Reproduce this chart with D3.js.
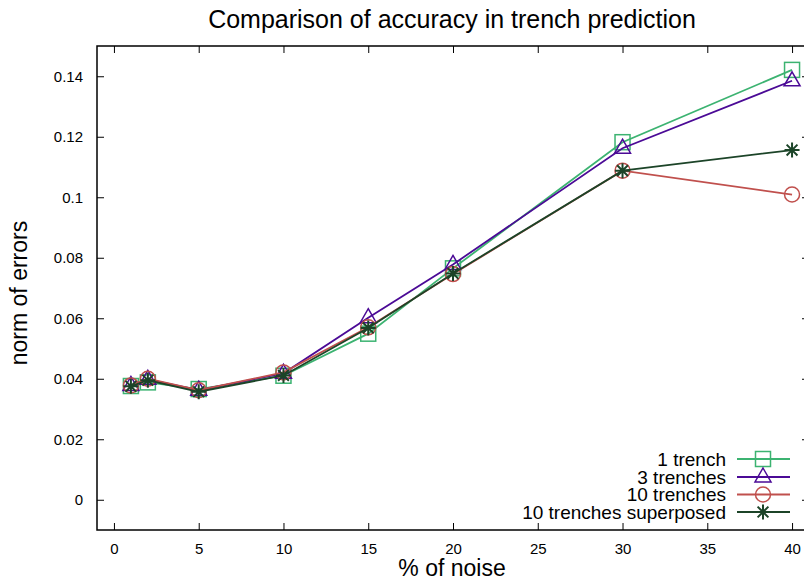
<!DOCTYPE html>
<html><head><meta charset="utf-8">
<script src="https://cdn.jsdelivr.net/npm/d3@7"></script>
<style>
body{margin:0;background:#fff;}
text{font-family:"Liberation Sans",Arial,sans-serif;fill:#000;}
</style></head>
<body><svg id="c" width="804" height="581"></svg>
<script>
const noise = [1, 2, 5, 10, 15, 20, 30, 40];
const oneTrench = [0.0376, 0.0388, 0.0366, 0.0410, 0.0549, 0.0765, 0.1182, 0.1421];
const threeTrenches = [0.0378, 0.0398, 0.0362, 0.0418, 0.0602, 0.0778, 0.1162, 0.1385];
const tenTrenches = [0.0378, 0.0400, 0.0362, 0.0421, 0.0570, 0.0746, 0.1088, 0.1009];
const tenSuperposed = [0.0375, 0.0395, 0.0357, 0.0411, 0.0568, 0.0748, 0.1088, 0.1156];
const seriesNames = ["1 trench", "3 trenches", "10 trenches", "10 trenches superposed"];
const xTicks = [0, 5, 10, 15, 20, 25, 30, 35, 40];
const yTicks = [0, 0.02, 0.04, 0.06, 0.08, 0.1, 0.12, 0.14];
const titleText = "Comparison of accuracy in trench prediction";
const xLabel = "% of noise";
const yLabel = "norm of errors";

const colors = ["#3cb371", "#4b0a96", "#c0504d", "#1c4428"];
const shapes = ["square", "triangle", "circle", "asterisk"];
const allSeries = [oneTrench, threeTrenches, tenTrenches, tenSuperposed];

const svg = d3.select("#c");
const L = 97, R = 809, T = 46, B = 530;
const x = d3.scaleLinear().domain([-1, 41]).range([L, R]);
const y = d3.scaleLinear().domain([-0.01, 0.15]).range([B, T]);

// title
svg.append("text").attr("x", 452).attr("y", 28).attr("text-anchor", "middle")
  .style("font-size", "25px").text(titleText);

// axes: ticks inward, mirrored
const fmtY = d => d === 0 ? "0" : d3.format("")(+d.toFixed(2));
const tickLen = 7;
const gAx = svg.append("g");
const yAxisL = d3.axisLeft(y).tickValues(yTicks).tickSize(-tickLen).tickPadding(14).tickFormat(fmtY);
const yAxisR = d3.axisRight(y).tickValues(yTicks).tickSize(-tickLen).tickFormat("");
const xAxisB = d3.axisBottom(x).tickValues(xTicks).tickSize(-tickLen).tickPadding(13).tickFormat(d3.format("d"));
const xAxisT = d3.axisTop(x).tickValues(xTicks).tickSize(-tickLen).tickFormat("");
gAx.append("g").attr("transform", `translate(${L},0)`).call(yAxisL);
gAx.append("g").attr("transform", `translate(${R},0)`).call(yAxisR);
gAx.append("g").attr("transform", `translate(0,${B})`).call(xAxisB);
gAx.append("g").attr("transform", `translate(0,${T})`).call(xAxisT);
gAx.selectAll(".domain").remove();
gAx.selectAll(".tick line").attr("stroke", "#000").attr("stroke-width", 1);
gAx.selectAll(".tick text").style("font-size", "15px").style("font-family", "Liberation Sans, Arial, sans-serif").attr("fill", "#000");
svg.append("rect").attr("x", L).attr("y", T).attr("width", R - L).attr("height", B - T)
  .attr("fill", "none").attr("stroke", "#000").attr("stroke-width", 1.5);

// axis labels
svg.append("text").attr("x", 452).attr("y", 576).attr("text-anchor", "middle")
  .style("font-size", "23px").text(xLabel);
svg.append("text").attr("transform", "translate(27,293) rotate(-90)").attr("text-anchor", "middle")
  .style("font-size", "23px").text(yLabel);

function drawMarker(g, shape, cx, cy, color) {
  const s = 7.5;
  if (shape === "square") {
    g.append("rect").attr("x", cx - s).attr("y", cy - s).attr("width", 2 * s).attr("height", 2 * s)
      .attr("fill", "none").attr("stroke", color).attr("stroke-width", 1.5);
  } else if (shape === "triangle") {
    g.append("path").attr("d", `M${cx},${cy - 9}L${cx + 8},${cy + 5}L${cx - 8},${cy + 5}Z`)
      .attr("fill", "none").attr("stroke", color).attr("stroke-width", 1.5);
  } else if (shape === "circle") {
    g.append("circle").attr("cx", cx).attr("cy", cy).attr("r", s)
      .attr("fill", "none").attr("stroke", color).attr("stroke-width", 1.5);
  } else {
    const d = s * 0.72;
    g.append("path").attr("d", `M${cx - s},${cy}H${cx + s}M${cx},${cy - s}V${cy + s}M${cx - d},${cy - d}L${cx + d},${cy + d}M${cx - d},${cy + d}L${cx + d},${cy - d}`)
      .attr("stroke", color).attr("stroke-width", 2);
  }
}

const line = d3.line().x(d => x(d[0])).y(d => y(d[1]));
allSeries.forEach((vals, i) => {
  const g = svg.append("g");
  const pts = noise.map((n, j) => [n, vals[j]]);
  g.append("path").attr("d", line(pts)).attr("fill", "none").attr("stroke", colors[i]).attr("stroke-width", 1.8);
  pts.forEach(p => drawMarker(g, shapes[i], x(p[0]), y(p[1]), colors[i]));
});

// legend
const legY = [459, 477, 494.5, 512];
seriesNames.forEach((name, i) => {
  const g = svg.append("g");
  g.append("text").attr("x", 726).attr("y", legY[i]).attr("dy", "0.35em").attr("text-anchor", "end")
    .style("font-size", "19px").text(name);
  g.append("line").attr("x1", 737).attr("x2", 790).attr("y1", legY[i]).attr("y2", legY[i])
    .attr("stroke", colors[i]).attr("stroke-width", 1.8);
  drawMarker(g, shapes[i], 763, legY[i], colors[i]);
});
</script></body></html>
